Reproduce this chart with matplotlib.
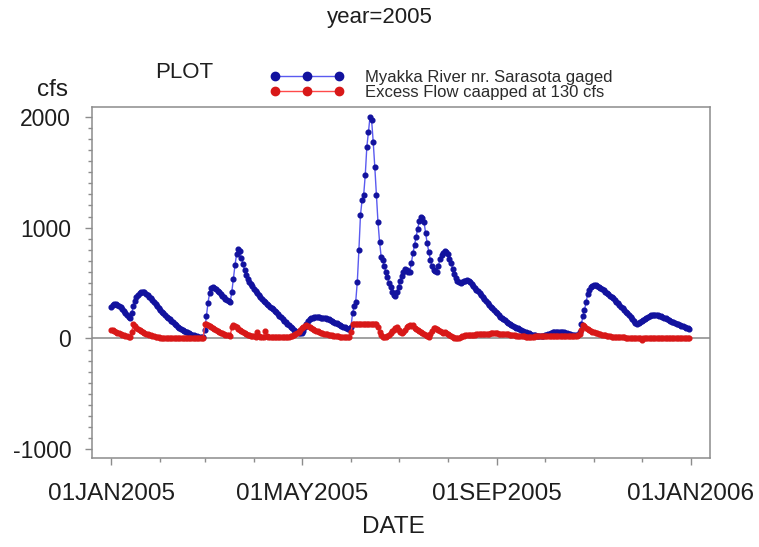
import numpy as np
import matplotlib
matplotlib.use("Agg")
import matplotlib.pyplot as plt
from matplotlib.lines import Line2D
from matplotlib.ticker import MultipleLocator

plt.rcParams['font.family'] = ['Liberation Sans', 'DejaVu Sans']
plt.rcParams['axes.unicode_minus'] = False

# ---------------- data ----------------
dates = np.arange('2005-01-01', '2006-01-01', dtype='datetime64[D]')

myakka_flow = [
    280, 300, 315, 315, 305, 295, 280, 265, 250, 232, 215, 198, 182,
    230, 290, 340, 375, 395, 410, 418, 422, 420,
    405, 392, 378, 362, 345, 327, 310, 292, 275, 258, 242, 227, 212, 198, 185,
    172, 158, 145, 132, 119, 108, 97, 88, 79, 70, 62, 54, 47, 40, 34, 28, 23, 19, 16, 14, 13, 14,
    80, 200, 320, 410, 455, 465, 458, 445, 430, 415, 400, 385, 370, 357, 345, 335, 330,
    420, 540, 660, 760, 810, 790, 730, 670, 620, 575, 540, 510, 490, 470, 450,
    430, 410, 390, 370, 355, 340, 325, 312, 300, 288, 276, 264, 252, 240, 225, 205,
    190, 176, 162, 148, 134, 120, 106, 92, 78, 66, 56, 48, 45, 50,
    70, 100, 130, 155, 172, 182, 188, 190, 191, 191, 190, 189, 187, 185, 183,
    180, 174, 167, 159, 151, 143, 136, 129, 122, 115, 108, 101, 94, 88, 83, 100,
    227, 290, 332, 512, 798, 1114, 1249, 1294, 1474, 1730, 1860, 2000, 1970, 1775, 1549,
    1294, 1053, 873, 738, 708, 650, 602, 550, 498, 460, 420, 390, 380,
    420, 467, 520, 560, 600, 630, 620, 600, 600, 680, 768, 840, 918, 990, 1060,
    1100, 1090, 1050, 950, 858, 780, 708, 650, 618, 605, 600, 650, 720, 750, 770,
    790, 780, 760, 720, 678, 630, 580, 543, 520, 505, 498, 505, 515, 522, 527,
    520, 505, 487, 470, 455, 440, 425, 410, 392, 375, 357, 337, 317, 302, 287,
    272, 257, 242, 227, 212, 197, 186, 175, 164, 153, 143, 133, 123, 114, 106,
    98, 90, 83, 76, 69, 62, 56, 50, 45, 40, 35, 31, 28, 25, 23,
    22, 22, 24, 27, 31, 36, 42, 48, 54, 58, 60, 62, 62, 61, 59,
    56, 52, 47, 42, 38, 35, 32, 30, 29, 30,
    60, 130, 200, 257, 330, 400, 437, 460, 475, 482, 478, 470, 462, 453, 444,
    434, 423, 412, 400, 387, 374, 361, 347, 333, 318, 303, 288, 273, 258, 243,
    228, 212, 196, 180, 162, 140, 130, 137, 147, 157, 166, 175, 185, 195, 203,
    209, 213, 215, 214, 211, 207, 201, 195, 188, 181, 174, 167, 160, 153, 146,
    140, 134, 128, 122, 116, 110, 104, 98, 93, 88,
]

excess_flow = [
    80, 75, 68, 60, 52, 45, 38, 32, 27, 22, 18, 15, 13,
    60, 130, 110, 95, 85, 75, 66, 58, 50, 44, 38, 32, 27, 22, 18, 15, 12, 10, 8, 7,
    6, 6, 5, 5, 5, 5, 5, 5, 5, 5, 5, 5, 5, 5, 5, 5, 5, 5, 5, 5, 5, 5, 5, 5, 6, 8,
    130, 130, 125, 115, 105, 95, 85, 76, 68, 60, 53, 46, 40, 35, 30, 27, 25,
    100, 125, 112, 100, 88, 76, 66, 57, 49, 42, 35, 30, 25, 21, 18, 15,
    55, 18, 15, 13, 12, 70, 20, 16, 15, 14, 13, 12, 11, 10, 10, 10, 10, 10, 12, 14, 17, 20, 25,
    30, 38, 45, 60, 77, 90, 100, 112, 122, 115, 105, 95, 85, 77, 70, 64, 58, 53, 48, 44,
    40, 36, 33, 30, 27, 25, 23, 21, 19, 17, 16, 15, 14, 13, 12, 12,
    60, 130, 130, 130, 130, 130, 130, 130, 130, 130, 130, 130, 130, 130, 130, 130, 130,
    100, 60, 30, 15, 10, 12, 20, 35, 50, 65, 80, 95, 100, 75, 55, 45, 60, 80, 100, 115,
    122, 110, 122, 95, 85, 77, 70, 60, 50, 40, 30, 20, 15, 40, 70, 90, 92, 85, 75, 65,
    55, 50, 61, 50, 40, 30, 20, 12, 8, 5, 3, 2, 10, 18, 24, 28,
    30, 31, 32, 33, 34, 35, 36, 37, 38, 39, 40, 41, 42, 43, 44, 45, 45, 46, 46, 45,
    44, 43, 42, 41, 40, 38, 36, 34, 32, 30, 28, 26, 24, 22, 20, 19, 18, 17, 16, 16, 16,
    16, 17, 18, 18, 19, 20, 20, 21, 22, 22, 23, 24, 25, 25, 26, 26, 25, 25, 24, 23,
    22, 21, 20, 20, 19, 19, 20, 22, 25, 30,
    40, 80, 122, 110, 95, 85, 75, 68, 62, 56, 51, 47, 42, 38, 34, 30, 27, 24, 21, 19,
    17, 16, 15, 14, 13, 12, 11, 10, 9, 8, 7, 6, 6, 5, 5, 5, 5, 5, 5, -13,
    5, 4, 4, 4, 4, 4, 4, 4, 4, 4, 4, 4, 4, 4, 4, 3, 3, 3, 3, 3,
    3, 3, 3, 3, 3, 3, 3, 3, 3, 3,
]

series_labels = ["Myakka River nr. Sarasota gaged", "Excess Flow caapped at 130 cfs"]
major_tick_dates = np.array(['2005-01-01', '2005-05-01', '2005-09-01', '2006-01-01'], dtype='datetime64[D]')
major_tick_labels = ["01JAN2005", "01MAY2005", "01SEP2005", "01JAN2006"]
minor_tick_dates = np.arange('2005-01', '2006-02', dtype='datetime64[M]').astype('datetime64[D]')
y_ticks = [-1000, 0, 1000, 2000]

# ---------------- figure ----------------
W, H = 759, 547
fig = plt.figure(figsize=(W / 100, H / 100), dpi=100)
ax = fig.add_axes([92 / W, 1 - 458 / H, (710 - 92) / W, (458 - 107.3) / H])

blue_line, blue_mk = '#5a5af0', '#12129e'
red_line, red_mk = '#ff4a4a', '#d81818'

ax.axhline(0, color='#9a9a9a', lw=1.3, zorder=1)
ax.plot(dates, myakka_flow, '-', color=blue_line, lw=1.0, marker='o', ms=3.4,
        mfc=blue_mk, mec=blue_mk, zorder=3)
ax.plot(dates, excess_flow, '-', color=red_line, lw=1.0, marker='o', ms=3.4,
        mfc=red_mk, mec=red_mk, zorder=4)

ax.set_xlim(np.datetime64('2004-12-20'), np.datetime64('2006-01-13'))
ax.set_ylim(-1078, 2085)

ax.set_xticks(major_tick_dates)
ax.set_xticklabels(major_tick_labels)
ax.set_xticks(minor_tick_dates, minor=True)
ax.set_yticks(y_ticks)
ax.yaxis.set_minor_locator(MultipleLocator(100))

for s in ax.spines.values():
    s.set_color('#8c8c8c')
    s.set_linewidth(1.1)

ax.tick_params(axis='both', which='major', direction='out', length=5, width=1,
               color='#8c8c8c', labelcolor='#1e1e1e')
ax.tick_params(axis='both', which='minor', direction='out', length=3, width=1,
               color='#8c8c8c')
ax.tick_params(axis='y', which='major', labelsize=16.5, pad=10)
ax.tick_params(axis='x', which='major', labelsize=17.5, pad=13)

fig.text(380 / W, 1 - 18 / H, "year=2005", ha='center', va='center', fontsize=16, color='#1e1e1e')
fig.text(184 / W, 1 - 72 / H, "PLOT", ha='center', va='center', fontsize=16, color='#1e1e1e')
fig.text(52 / W, 1 - 90 / H, "cfs", ha='center', va='center', fontsize=17.5, color='#1e1e1e')
fig.text(393 / W, 1 - 527 / H, "DATE", ha='center', va='center', fontsize=17.5, color='#1e1e1e')

handles = [
    Line2D([], [], color=blue_line, lw=1, marker='o', ms=6, mfc=blue_mk, mec=blue_mk),
    Line2D([], [], color=red_line, lw=1, marker='o', ms=6, mfc=red_mk, mec=red_mk),
]
fig.legend(handles, series_labels, loc='upper left', bbox_to_anchor=(270 / W, 1 - 70 / H),
           frameon=False, fontsize=12, numpoints=3, handlelength=4.44, handletextpad=1.26,
           borderpad=0, borderaxespad=0, labelspacing=0.02, labelcolor='#2a2a2a')

fig.savefig("out.png", dpi=100)
